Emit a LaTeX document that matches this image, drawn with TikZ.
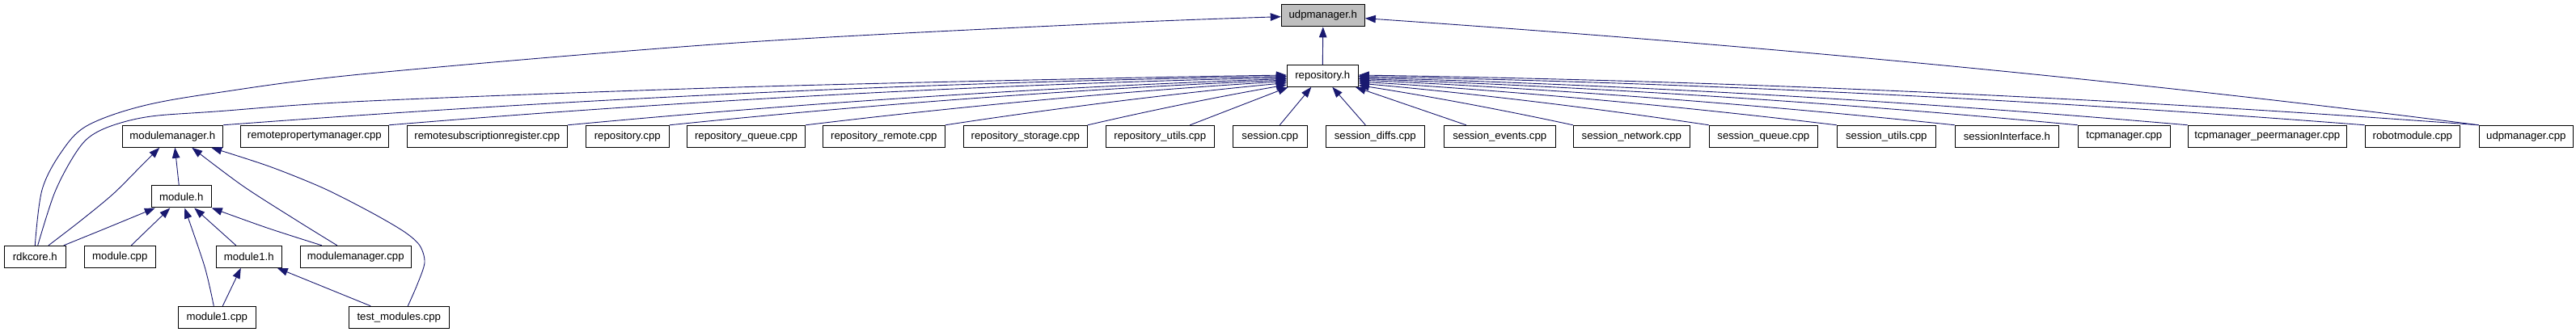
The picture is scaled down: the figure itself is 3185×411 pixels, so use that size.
\documentclass[tikz,border=0pt]{standalone}
\usepackage{fontspec}
\setmainfont{Liberation Sans}
\usetikzlibrary{arrows.meta,calc}
\definecolor{edgeblue}{HTML}{191970}
\definecolor{boxgrey}{HTML}{BFBFBF}
\begin{document}
\begin{tikzpicture}[x=1pt,y=-1pt,
  file/.style={draw=black, line width=1pt, fill=white, minimum height=27pt, inner sep=0pt,
    font=\fontsize{13.2}{15}\selectfont, text=black},
  edge/.style={draw=edgeblue, line width=0.9pt, -{Triangle[length=13pt,width=9.5pt]}},
  curv/.style={to path={.. controls ($(\tikztostart)!0.33!(\tikztotarget)+(0,#1)$) and ($(\tikztostart)!0.67!(\tikztotarget)+(0,#1)$) .. (\tikztotarget)}}]
\path[use as bounding box, fill=white] (0,0) rectangle (3185,411);

% nodes
\node[file, fill=boxgrey, minimum width=103pt] (udph) at (1635.8,19.3) {udpmanager.h};
\node[file, minimum width=88pt] (reph) at (1635.3,93.8) {repository.h};

\node[file, minimum width=124pt] (mmh) at (213.3,168.8) {modulemanager.h};
\node[file, minimum width=183pt] (rpm) at (388.8,168.8) {remotepropertymanager.cpp};
\node[file, minimum width=198pt] (rsr) at (602.3,168.8) {remotesubscriptionregister.cpp};
\node[file, minimum width=103pt] (repcpp) at (775.8,168.8) {repository.cpp};
\node[file, minimum width=146.4pt] (repq) at (922.5,168.8) {repository\_queue.cpp};
\node[file, minimum width=151pt] (reprem) at (1092.8,168.8) {repository\_remote.cpp};
\node[file, minimum width=153pt] (repsto) at (1267.8,168.8) {repository\_storage.cpp};
\node[file, minimum width=134pt] (repu) at (1434.3,168.8) {repository\_utils.cpp};
\node[file, minimum width=92pt] (sess) at (1570.3,168.8) {session.cpp};
\node[file, minimum width=122pt] (sdiff) at (1700.3,168.8) {session\_diffs.cpp};
\node[file, minimum width=138pt] (sev) at (1854.3,168.8) {session\_events.cpp};
\node[file, minimum width=144pt] (snet) at (2017.3,168.8) {session\_network.cpp};
\node[file, minimum width=134pt] (sq) at (2180.3,168.8) {session\_queue.cpp};
\node[file, minimum width=122pt] (su) at (2332.3,168.8) {session\_utils.cpp};
\node[file, minimum width=128pt] (si) at (2481.3,168.8) {sessionInterface.h};
\node[file, minimum width=114pt] (tcp) at (2626.3,168.8) {tcpmanager.cpp};
\node[file, minimum width=196pt] (tcpp) at (2803.3,168.8) {tcpmanager\_peermanager.cpp};
\node[file, minimum width=117pt] (robot) at (2982.8,168.8) {robotmodule.cpp};
\node[file, minimum width=116pt] (udpcpp) at (3123.3,168.8) {udpmanager.cpp};

\node[file, minimum width=74pt] (modh) at (224.3,243.5) {module.h};

\node[file, minimum width=76pt] (rdk) at (43.3,317.8) {rdkcore.h};
\node[file, minimum width=88pt] (modcpp) at (148.3,317.8) {module.cpp};
\node[file, minimum width=81pt] (mod1h) at (307.8,317.8) {module1.h};
\node[file, minimum width=137pt] (mmcpp) at (439.8,317.8) {modulemanager.cpp};

\node[file, minimum width=96pt] (mod1cpp) at (268.3,392.8) {module1.cpp};
\node[file, minimum width=124pt] (tm) at (493.3,392.8) {test\_modules.cpp};

% arrival points on repository.h
\coordinate (L1) at ([yshift=-0.7pt]reph.west);
\coordinate (L2) at ([yshift=-2.2pt]reph.west);
\coordinate (L3) at ([yshift=-3.7pt]reph.west);
\coordinate (L4) at ([yshift=-5.2pt]reph.west);
\coordinate (L5) at ([yshift=-6.7pt]reph.west);
\coordinate (L6) at ([yshift=-8.7pt]reph.west);
\coordinate (L7) at ([yshift=-11.2pt]reph.west);
\coordinate (R1) at ([yshift=-11.7pt]reph.east);
\coordinate (R2) at ([yshift=-9.2pt]reph.east);
\coordinate (R3) at ([yshift=-7.2pt]reph.east);
\coordinate (R4) at ([yshift=-5.2pt]reph.east);
\coordinate (R5) at ([yshift=-3.7pt]reph.east);
\coordinate (R6) at ([yshift=-2.2pt]reph.east);
\coordinate (R7) at ([yshift=-0.7pt]reph.east);
\coordinate (R8) at ([yshift=0.8pt]reph.east);

% edges to udpmanager.h
\draw[edge] (reph.north) -- (udph.south);
\draw[edge] plot[smooth,tension=0.55] coordinates {(rdk.north) (52,235) (76,188) (107,156) (173,132) (267,115) (456,91) (911,53) (1366,29) ([yshift=-1.4pt]udph.west)};
\draw[edge] (udpcpp.north west) .. controls (2605,96) and (2147,54) .. ([yshift=-3.4pt]udph.east);

% edges to repository.h (left)
\draw[edge] plot[smooth,tension=0.55] coordinates {([xshift=3.4pt]rdk.north) (67,240) (90,195) (110,170) (140,155) (187,144) (267,138) (456,125) (911,108) (1366,97) ([yshift=0.8pt]reph.west)};
\draw[edge] (mmh.north east) to[curv=-12.8] (L1);
\draw[edge] (rpm.north east) to[curv=-11] (L2);
\draw[edge] (rsr.north east) to[curv=-8.6] (L3);
\draw[edge] (repcpp.north east) to[curv=-7.4] (L4);
\draw[edge] (repq.north east) to[curv=-5.8] (L5);
\draw[edge] (reprem.north east) to[curv=-4] (L6);
\draw[edge] (repsto.north east) to[curv=-2.4] (L7);
\draw[edge] ([xshift=37pt]repu.north) -- ([xshift=2pt]reph.south west);
\draw[edge] ([xshift=12pt]sess.north) -- ([xshift=-14pt]reph.south);
% edges to repository.h (right)
\draw[edge] ([xshift=-12pt]sdiff.north) -- ([xshift=12pt]reph.south);
\draw[edge] ([xshift=28pt]sev.north west) -- ([xshift=-4pt]reph.south east);
\draw[edge] (snet.north west) to[curv=-2.6] (R1);
\draw[edge] (sq.north west) to[curv=-4.2] (R2);
\draw[edge] (su.north west) to[curv=-5.7] (R3);
\draw[edge] (si.north west) to[curv=-7.1] (R4);
\draw[edge] (tcp.north west) to[curv=-8.6] (R5);
\draw[edge] (tcpp.north west) to[curv=-10] (R6);
\draw[edge] (robot.north west) to[curv=-12] (R7);
\draw[edge] (udpcpp.north west) to[curv=-13.4] (R8);

% edges to modulemanager.h
\draw[edge] plot[smooth,tension=0.5] coordinates {([xshift=16.7pt]rdk.north) (100,273) (140,240) (175,205) ([xshift=-16pt]mmh.south)};
\draw[edge] ([xshift=-3pt]modh.north) -- ([xshift=3pt]mmh.south);
\draw[edge] plot[smooth,tension=0.5] coordinates {([xshift=-23pt]mmcpp.north) (367,273) (300,230) ([xshift=24pt]mmh.south)};
\draw[edge] plot[smooth,tension=0.5] coordinates {([xshift=11pt]tm.north) (516,352) (525,325) (519,304) (500,287) (459,263) (400,233) (333,206) ([xshift=48pt]mmh.south)};

% edges to module.h
\draw[edge] plot[smooth,tension=0.5] coordinates {([xshift=-3pt]rdk.north east) (130,283) ([xshift=5pt]modh.south west)};
\draw[edge] ([xshift=14pt]modcpp.north) -- ([xshift=-14pt]modh.south);
\draw[edge] plot[smooth,tension=0.5] coordinates {([xshift=-4pt]mod1cpp.north) (253,330) ([xshift=4pt]modh.south)};
\draw[edge] ([xshift=-16pt]mod1h.north) -- ([xshift=16pt]modh.south);
\draw[edge] plot[smooth,tension=0.5] coordinates {([xshift=-42pt]mmcpp.north) (330,282) (modh.south east)};

% edges to module1.h
\draw[edge] ([xshift=7pt]mod1cpp.north) -- ([xshift=-10pt]mod1h.south);
\draw[edge] ([xshift=-35pt]tm.north) -- ([xshift=-6pt]mod1h.south east);
\end{tikzpicture}
\end{document}
